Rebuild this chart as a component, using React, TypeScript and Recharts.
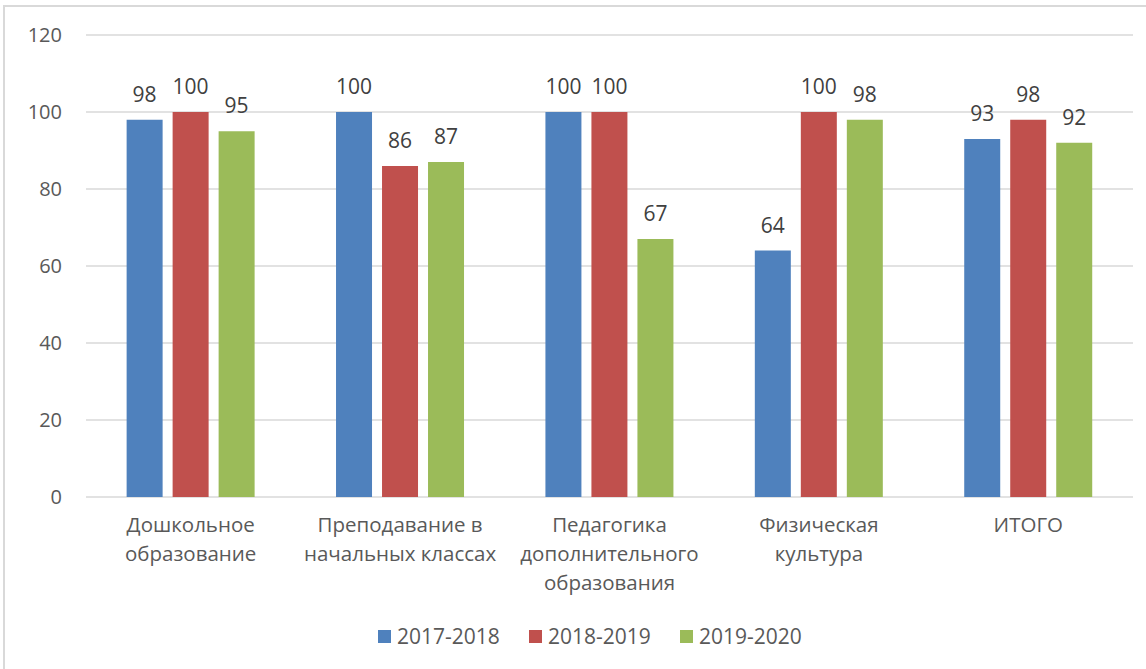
import React from "react";
import { BarChart, Bar, XAxis, YAxis, CartesianGrid, Legend, LabelList } from "recharts";

const categories = [
  "Дошкольное\nобразование",
  "Преподавание в\nначальных классах",
  "Педагогика\nдополнительного\nобразования",
  "Физическая\nкультура",
  "ИТОГО",
];
const series2017 = [98, 100, 100, 64, 93];
const series2018 = [100, 86, 100, 100, 98];
const series2019 = [95, 87, 67, 98, 92];
const seriesNames = ["2017-2018", "2018-2019", "2019-2020"];
const yTicks = [0, 20, 40, 60, 80, 100, 120];

const colors = ["#4F81BD", "#C0504D", "#9BBB59"];
const FONT = "'Open Sans', sans-serif";

const data = categories.map((c, i) => ({
  name: c,
  a: series2017[i],
  b: series2018[i],
  c: series2019[i],
}));

const XTick = (props: any) => {
  const { x, y, payload } = props;
  const lines = String(payload.value).split("\n");
  return (
    <text x={x} y={y} textAnchor="middle" fill="#595959" fontSize={20.5} fontFamily={FONT}>
      {lines.map((l, i) => (
        <tspan key={i} x={x} dy={i === 0 ? 27 : 29}>
          {l}
        </tspan>
      ))}
    </text>
  );
};

const LegendContent = () => (
  <div style={{ display: "flex", justifyContent: "flex-start", paddingLeft: 362, fontFamily: FONT, fontSize: 21, color: "#595959" }}>
    {seriesNames.map((n, i) => (
      <div key={n} style={{ display: "flex", alignItems: "center", width: 151 }}>
        <div style={{ width: 13, height: 13, background: colors[i], marginRight: 6 }} />
        <span>{n}</span>
      </div>
    ))}
  </div>
);

const labelProps = { position: "top" as const, offset: 18, fill: "#404040", fontSize: 21, fontFamily: FONT };

export default function App() {
  return (
    <div style={{ position: "absolute", left: 0, top: 0, width: 1146, height: 669, background: "#fff", overflow: "hidden" }}>
      <div style={{ position: "absolute", left: 3, top: 5, width: 1200, height: 700, borderLeft: "2px solid #D9D9D9", borderTop: "2px solid #D9D9D9" }} />
      <div style={{ position: "absolute", left: 0, top: 0 }}>
        <BarChart
          width={1146}
          height={669}
          data={data}
          margin={{ top: 35, right: 13, bottom: 0, left: 16 }}
          barGap={10}
          barCategoryGap="19.4%"
        >
          <CartesianGrid vertical={false} stroke="#D9D9D9" strokeWidth={1.5} />
          <XAxis
            dataKey="name"
            axisLine={false}
            tickLine={false}
            interval={0}
            height={125}
            tick={<XTick />}
          />
          <YAxis
            domain={[0, 120]}
            ticks={yTicks}
            width={70}
            axisLine={false}
            tickLine={false}
            tickMargin={18}
            tick={{ fill: "#595959", fontSize: 20, fontFamily: FONT }}
          />
          <Legend verticalAlign="bottom" height={47} content={<LegendContent />} />
          <Bar dataKey="a" name={seriesNames[0]} fill={colors[0]} isAnimationActive={false}>
            <LabelList dataKey="a" {...labelProps} />
          </Bar>
          <Bar dataKey="b" name={seriesNames[1]} fill={colors[1]} isAnimationActive={false}>
            <LabelList dataKey="b" {...labelProps} />
          </Bar>
          <Bar dataKey="c" name={seriesNames[2]} fill={colors[2]} isAnimationActive={false}>
            <LabelList dataKey="c" {...labelProps} />
          </Bar>
        </BarChart>
      </div>
    </div>
  );
}
